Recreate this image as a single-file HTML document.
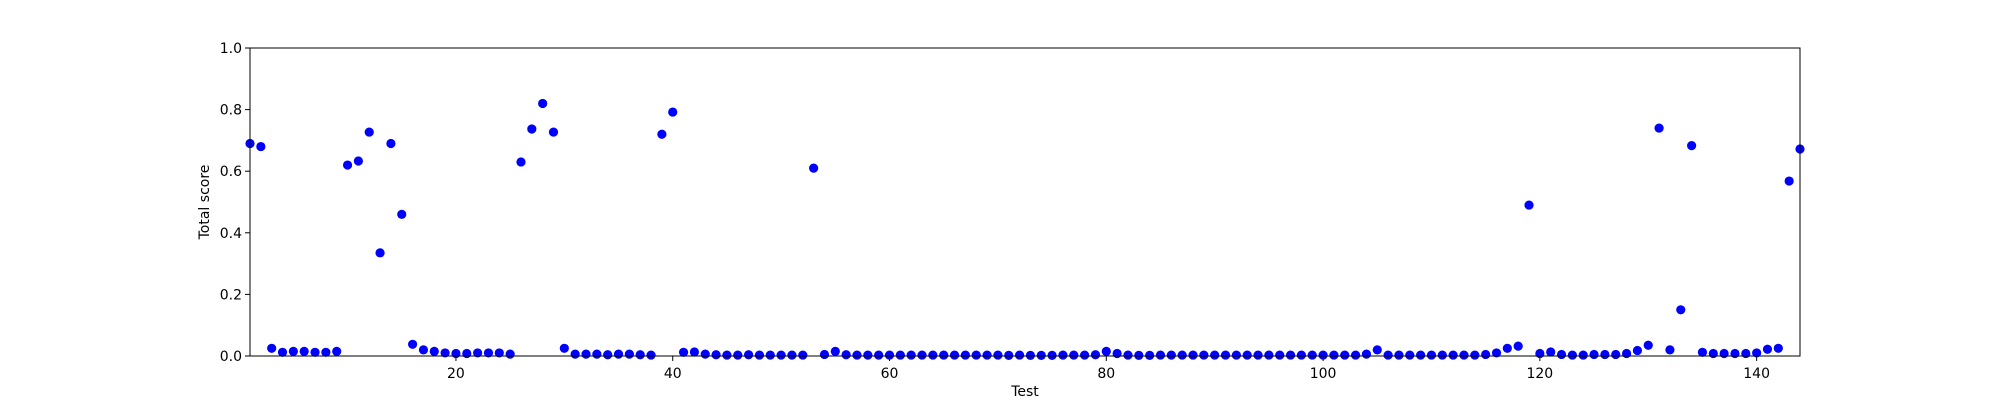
<!DOCTYPE html>
<html><head><meta charset="utf-8">
<style>
html,body{margin:0;padding:0;background:#fff;}
svg{display:block;font-family:"DejaVu Sans","Liberation Sans",sans-serif;}
</style></head>
<body>
<svg id="chart" width="2000" height="400" viewBox="0 0 2000 400" xmlns="http://www.w3.org/2000/svg">
<rect x="0" y="0" width="2000" height="400" fill="#fff"/>
<g id="ticks"></g>
<g id="points"></g>
<rect x="250" y="48" width="1550" height="308" fill="none" stroke="#000" stroke-width="1"/>
<text x="1025" y="396" font-size="14" text-anchor="middle">Test</text>
<text transform="translate(209,202) rotate(-90)" font-size="14" text-anchor="middle">Total score</text>
</svg>
<script>
const scores = [0.69,0.68,0.025,0.012,0.015,0.015,0.012,0.012,0.015,0.62,
0.633,0.727,0.335,0.69,0.46,0.038,0.02,0.015,0.01,0.008,
0.008,0.01,0.01,0.01,0.006,0.63,0.737,0.82,0.727,0.025,
0.006,0.006,0.006,0.004,0.006,0.006,0.004,0.003,0.72,0.792,
0.012,0.013,0.006,0.004,0.003,0.003,0.004,0.003,0.003,0.003,
0.003,0.003,0.61,0.005,0.015,0.004,0.003,0.003,0.003,0.003,
0.003,0.003,0.003,0.003,0.003,0.003,0.003,0.003,0.003,0.003,
0.002,0.003,0.002,0.002,0.002,0.003,0.003,0.003,0.004,0.015,
0.008,0.003,0.002,0.002,0.003,0.003,0.003,0.003,0.003,0.003,
0.003,0.003,0.003,0.003,0.003,0.003,0.003,0.003,0.003,0.003,
0.003,0.003,0.003,0.006,0.02,0.003,0.003,0.003,0.003,0.003,
0.003,0.003,0.003,0.003,0.005,0.01,0.025,0.032,0.49,0.008,
0.013,0.005,0.003,0.003,0.005,0.005,0.005,0.008,0.018,0.035,
0.74,0.02,0.15,0.683,0.012,0.008,0.008,0.008,0.008,0.01,
0.022,0.025,0.568,0.672];
const xTicks = [20,40,60,80,100,120,140];
const yTicks = [0.0,0.2,0.4,0.6,0.8,1.0];
const xMin = 1, xMax = 144, yMin = 0, yMax = 1;
const L = 250, R = 1800, T = 48, B = 356;
function xs(v){return L + (v - xMin) / (xMax - xMin) * (R - L);}
function ys(v){return B - (v - yMin) / (yMax - yMin) * (B - T);}
const NS = "http://www.w3.org/2000/svg";
const tg = document.getElementById('ticks');
const pg = document.getElementById('points');
xTicks.forEach(t => {
  const x = xs(t);
  const ln = document.createElementNS(NS,'line');
  ln.setAttribute('x1',x);ln.setAttribute('x2',x);ln.setAttribute('y1',B);ln.setAttribute('y2',B+5);
  ln.setAttribute('stroke','#000');
  
  
  tg.appendChild(ln);
  const tx = document.createElementNS(NS,'text');
  tx.setAttribute('x',x);tx.setAttribute('y',B+22);tx.setAttribute('font-size','14');tx.setAttribute('text-anchor','middle');
  tx.textContent = String(t);
  
  
  tg.appendChild(tx);
});
yTicks.forEach(t => {
  const y = ys(t);
  const ln = document.createElementNS(NS,'line');
  ln.setAttribute('x1',L-5);ln.setAttribute('x2',L);ln.setAttribute('y1',y);ln.setAttribute('y2',y);
  ln.setAttribute('stroke','#000');
  
  
  tg.appendChild(ln);
  const tx = document.createElementNS(NS,'text');
  tx.setAttribute('x',L-8);tx.setAttribute('y',y+5);tx.setAttribute('font-size','14');tx.setAttribute('text-anchor','end');
  tx.textContent = t.toFixed(1);
  
  
  tg.appendChild(tx);
});
scores.forEach((v,i) => {
  const c = document.createElementNS(NS,'circle');
  c.setAttribute('cx', xs(i+1));
  c.setAttribute('cy', ys(v));
  c.setAttribute('r', 4.6);
  c.setAttribute('fill', '#0000ff');
  
  
  pg.appendChild(c);
});
</script>
</body></html>
